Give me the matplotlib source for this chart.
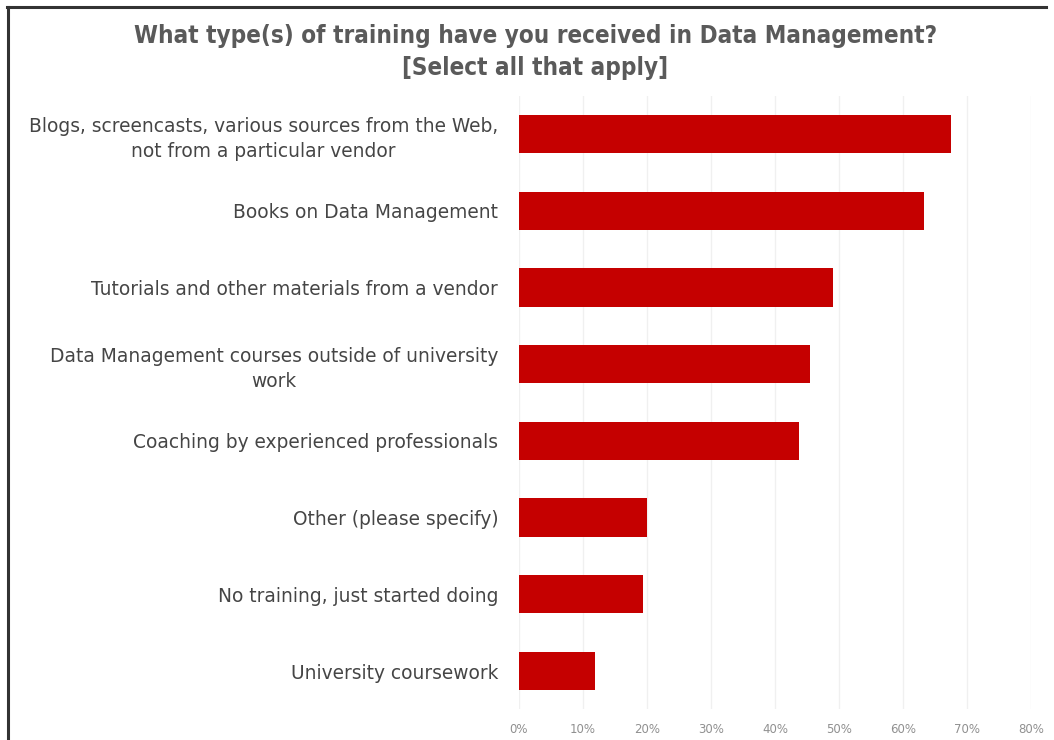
import matplotlib
matplotlib.use("Agg")
import matplotlib.pyplot as plt
from matplotlib.lines import Line2D
from matplotlib.ticker import FuncFormatter, MultipleLocator

categories = [
    "Blogs, screencasts, various sources from the Web,\nnot from a particular vendor",
    "Books on Data Management",
    "Tutorials and other materials from a vendor",
    "Data Management courses outside of university\nwork",
    "Coaching by experienced professionals",
    "Other (please specify)",
    "No training, just started doing",
    "University coursework",
]
percentages = [67.5, 63.3, 49.0, 45.4, 43.8, 20.0, 19.3, 11.9]

title = ("What type(s) of training have you received in Data Management?\n"
         "[Select all that apply]")

bar_color = "#C50000"
label_color = "#454545"
title_color = "#5a5a5a"
tick_color = "#909090"

fig = plt.figure(figsize=(10.54, 7.40), dpi=100)
ax = fig.add_axes([0.4924, 0.0414, 0.4858, 0.8294])

ypos = list(range(len(categories)))
ax.barh(ypos, percentages, height=0.5, color=bar_color, zorder=3)

ax.set_xlim(0, 80)
ax.set_ylim(len(categories) - 0.5, -0.5)
ax.xaxis.set_major_locator(MultipleLocator(10))
ax.xaxis.set_major_formatter(FuncFormatter(lambda v, _: f"{v:.0f}%"))
ax.grid(axis="x", color="#f0f0f0", linewidth=1.0, zorder=0)

ax.set_yticks(ypos)
ax.set_yticklabels(categories, fontsize=13.4, color=label_color,
                   multialignment="center", family="DejaVu Sans",
                   linespacing=1.4)
ax.tick_params(axis="y", length=0, pad=15)
ax.tick_params(axis="x", length=0, pad=10, labelsize=8.5, labelcolor=tick_color)
for side in ax.spines.values():
    side.set_visible(False)

fig.text(0.508, 0.930, title, ha="center", va="center", fontsize=17.4,
         fontweight="bold", color=title_color, linespacing=1.4,
         family="DejaVu Sans", fontstretch="condensed")

# Frame lines along the left and top edges of the figure
fig.add_artist(Line2D([0.0078, 0.0078], [0.0, 0.9905], transform=fig.transFigure,
                      color="#333333", linewidth=2.2))
fig.add_artist(Line2D([0.0068, 0.992], [0.9905, 0.9905], transform=fig.transFigure,
                      color="#333333", linewidth=2.2))

fig.savefig("out.png", dpi=100, facecolor="white")
